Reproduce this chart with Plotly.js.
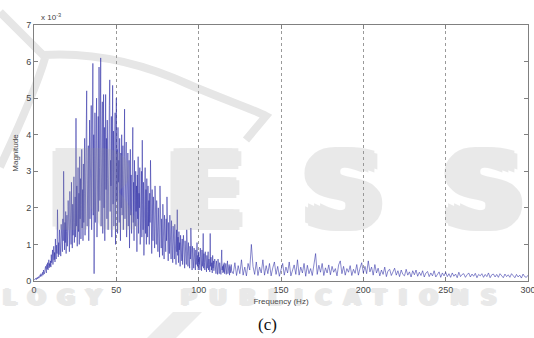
<!DOCTYPE html>
<html>
<head>
<meta charset="utf-8">
<script src="https://cdn.plot.ly/plotly-3.0.1.min.js"></script>
<style>html,body{margin:0;padding:0;background:#fff;}#chart{width:534px;height:338px;}</style>
</head>
<body>
<div id="chart"></div>
<script>
// Magnitude (x 10^-3), 0..120 Hz at 0.25 Hz steps
const magLow = [
0.02,0.04,0.03,0.06,0.05,0.08,0.04,0.07,0.10,0.06,0.09,0.12,0.08,0.14,0.10,0.17,0.12,0.20,0.15,0.13,
0.18,0.24,0.16,0.30,0.22,0.19,0.34,0.25,0.40,0.28,0.22,0.45,0.33,0.50,0.30,0.42,0.58,0.36,0.48,0.40,
0.55,0.38,0.72,0.50,0.62,0.85,0.45,0.68,0.95,0.58,0.78,0.52,1.15,0.70,0.60,0.98,0.75,1.95,0.82,0.66,
1.05,0.72,1.40,0.90,1.20,0.68,1.55,1.00,1.30,0.80,1.70,1.10,3.00,1.25,0.85,1.60,1.05,1.90,0.75,1.35,
1.80,0.95,1.45,2.20,1.10,1.65,0.80,2.45,1.30,1.85,1.00,2.70,1.50,0.90,2.10,1.25,1.75,2.85,1.05,1.60,
2.30,1.20,4.45,1.50,2.60,0.95,1.90,3.10,1.35,2.40,1.00,3.40,1.70,2.80,1.15,2.10,3.60,1.45,2.50,1.10,
3.20,1.60,2.40,3.90,1.25,2.70,1.80,4.10,5.20,1.50,3.00,2.00,3.70,1.10,2.60,4.40,1.70,3.30,2.20,4.80,
1.40,3.50,2.50,5.95,1.80,4.00,0.20,2.90,4.60,1.60,3.40,2.30,5.00,1.20,3.80,2.60,4.50,1.90,5.85,3.10,
2.20,4.70,6.10,1.50,3.60,2.40,4.90,1.30,3.20,5.10,2.00,4.20,1.10,3.50,5.10,2.50,3.90,1.70,4.40,2.80,
1.40,3.70,2.30,4.80,5.50,1.90,3.30,2.60,4.50,1.20,3.80,5.35,2.10,4.10,1.50,3.40,2.50,4.60,1.00,3.20,
5.00,2.20,3.60,1.30,4.20,2.70,3.30,1.60,3.90,2.40,1.10,3.50,2.00,4.00,1.80,2.90,3.70,1.40,2.60,3.40,
4.70,1.70,3.10,2.30,3.80,1.20,2.80,2.00,3.50,1.50,2.60,3.30,0.90,2.40,3.60,1.80,2.90,1.30,3.20,2.10,
4.20,1.60,2.70,1.10,3.30,2.20,1.50,3.00,1.90,2.60,0.80,2.90,1.70,3.40,1.30,2.40,2.00,3.10,1.00,2.50,
1.60,3.00,1.20,3.85,2.10,1.40,2.70,0.70,2.30,1.80,3.10,1.30,2.50,1.00,2.80,1.90,1.20,2.60,1.50,2.20,
1.00,2.40,1.60,3.30,1.30,2.00,0.75,2.50,1.70,1.10,2.30,1.40,2.10,0.90,2.60,1.50,1.90,1.00,2.20,1.30,
1.80,0.80,2.00,1.40,1.60,0.65,2.60,1.20,1.90,0.90,1.70,1.30,0.70,2.10,1.10,1.50,0.60,1.80,1.20,1.40,
0.80,1.70,1.10,2.30,0.90,1.50,0.55,1.60,1.20,0.75,1.80,1.00,1.40,0.60,1.65,0.95,1.25,0.50,1.50,0.85,
1.30,0.60,1.55,0.90,1.10,0.45,1.40,0.80,1.95,0.70,1.20,0.50,1.35,0.85,1.05,0.40,1.25,0.65,1.00,0.55,
1.15,0.45,0.90,1.25,0.60,1.00,0.35,1.10,0.70,0.90,0.45,1.40,0.65,0.85,0.40,1.05,0.55,0.80,0.35,0.95,
0.60,1.45,0.50,0.85,0.30,0.95,0.55,0.75,0.35,0.90,0.50,0.70,0.30,0.85,0.45,0.65,1.05,0.40,0.70,0.30,
0.80,0.45,0.65,0.30,0.90,0.50,0.70,0.28,0.85,0.40,0.60,1.30,0.35,0.75,0.50,0.30,0.80,0.45,0.60,0.25,
0.70,0.35,0.55,0.80,0.30,0.60,0.45,0.25,1.30,0.40,0.65,0.30,0.50,0.22,0.70,0.35,0.55,0.28,0.45,0.60,
0.30,0.50,0.20,0.55,0.35,0.45,0.18,0.60,0.30,0.40,0.20,0.50,0.28,0.45,0.18,0.55,0.85,0.30,0.40,0.22,
0.45,0.25,0.50,0.20,0.38,0.30,0.48,0.18,0.42,0.28,0.55,0.20,0.35,0.25,0.45,0.16,0.40,0.30,0.22,0.45,
0.28
];
// Magnitude (x 10^-3), 121..300 Hz at 1 Hz steps
const magHigh = [
0.20,0.50,0.15,0.42,0.20,0.58,0.16,0.38,0.14,0.48,
0.30,1.00,0.40,0.18,0.52,0.15,0.38,0.22,0.58,0.16,
0.42,0.20,0.48,0.14,0.36,0.52,0.18,0.40,0.13,0.33,
0.48,0.16,0.38,0.22,0.52,0.14,0.33,0.44,0.18,0.58,
0.16,0.38,0.22,0.48,0.13,0.43,0.20,0.34,0.15,0.52,
0.75,0.18,0.43,0.24,0.48,0.15,0.36,0.22,0.44,0.17,
0.40,0.24,0.34,0.14,0.44,0.55,0.20,0.40,0.16,0.34,
0.24,0.42,0.15,0.32,0.21,0.45,0.16,0.35,0.50,0.22,
0.40,0.20,0.55,0.25,0.38,0.16,0.45,0.22,0.35,0.14,
0.30,0.18,0.38,0.12,0.28,0.32,0.15,0.25,0.35,0.16,
0.28,0.12,0.30,0.18,0.14,0.32,0.16,0.25,0.11,0.28,
0.17,0.30,0.13,0.24,0.15,0.28,0.11,0.22,0.26,0.12,
0.22,0.14,0.28,0.11,0.20,0.25,0.10,0.22,0.14,0.24,
0.12,0.20,0.10,0.22,0.13,0.19,0.09,0.24,0.12,0.18,
0.20,0.10,0.17,0.22,0.11,0.19,0.13,0.21,0.09,0.18,
0.14,0.20,0.10,0.18,0.12,0.22,0.09,0.17,0.19,0.11,
0.18,0.10,0.20,0.13,0.09,0.19,0.12,0.17,0.10,0.20,
0.13,0.09,0.18,0.11,0.16,0.08,0.19,0.12,0.10,0.16
];
const xTicks = [0,50,100,150,200,250,300];
const yTicks = [0,1,2,3,4,5,6,7];
const xTitle = 'Frequency (Hz)';
const yTitle = 'Magnitude';
const caption = '(c)';

const freq = [], mag = [];
magLow.forEach((v,i)=>{ freq.push(i*0.25); mag.push(v); });
magHigh.forEach((v,i)=>{ freq.push(121+i); mag.push(v); });

// pixel -> paper helpers for decoration placement (plot area 34..528 x 25..281)
const PL=34, PR=528, PT=25, PB=281;
const px = x => (x-PL)/(PR-PL);
const py = y => (PB-y)/(PB-PT);
const pt = (x,y) => px(x).toFixed(4)+','+py(y).toFixed(4);

const g = 'rgb(150,150,150)';
const bigShadow = [[-9,0],[-6,0],[-3,0],[3,0],[6,0],[9,0],[-6,3],[6,3],[-6,-3],[6,-3],[0,3],[0,-3]]
  .map(([a,b]) => a+'px '+b+'px 0 '+g).join(', ');
const smallShadow = [[-2,0],[2,0],[0,1],[0,-1]].map(([a,b]) => a+'px '+b+'px 0 '+g).join(', ');
const wmFont = {family:'DejaVu Sans, Liberation Sans, sans-serif', size:104, weight:'bold', color:g, shadow:bigShadow};
const wmLetters = [['R',92],['E',205],['S',343],['S',483]];
const wmSmall = {family:'DejaVu Sans, Liberation Sans, sans-serif', size:21, weight:'bold', color:g, shadow:smallShadow};

const axisCommon = {
  showline:true, mirror:'ticks', linecolor:'#808080', linewidth:1,
  ticks:'inside', ticklen:4, tickcolor:'#808080',
  tickfont:{family:'Liberation Sans, Arial, sans-serif', size:9, color:'#444'},
  zeroline:false, ticklabeloverflow:'allow'
};

const layout = {
  width:534, height:338,
  margin:{l:34, r:6, t:25, b:57},
  paper_bgcolor:'#fff', plot_bgcolor:'rgba(0,0,0,0)',
  showlegend:false,
  xaxis:Object.assign({}, axisCommon, {
    range:[0,300], tickvals:xTicks, ticktext:xTicks.map(String),
    showgrid:true, gridcolor:'#9a9a9a', griddash:'dot', gridwidth:1,
    title:{text:xTitle, font:{family:'Liberation Sans, Arial, sans-serif', size:8, color:'#444'}, standoff:4}
  }),
  yaxis:Object.assign({}, axisCommon, {
    range:[0,7], tickvals:yTicks, ticktext:yTicks.map(String),
    showgrid:false,
    title:{text:yTitle, font:{family:'Liberation Sans, Arial, sans-serif', size:8, color:'#444'}, standoff:6}
  }),
  shapes:[
    {type:'path', xref:'paper', yref:'paper', layer:'below',
     path:'M'+pt(0,12)+' L'+pt(43,55)+' C'+pt(90,52)+' '+pt(140,62)+' '+pt(190,85)+
          ' C'+pt(225,100)+' '+pt(255,110)+' '+pt(266,116)+' L'+pt(246,140),
     line:{color:'#e6e6e6', width:8}},
    {type:'path', xref:'paper', yref:'paper', layer:'below',
     path:'M'+pt(45,58)+' Q'+pt(36,90)+' '+pt(0,167),
     line:{color:'#e6e6e6', width:8}},
    {type:'path', xref:'paper', yref:'paper', layer:'below',
     path:'M'+pt(147,338)+' L'+pt(176,338)+' L'+pt(202,312)+' L'+pt(173,312)+' Z',
     fillcolor:'#ececec', line:{width:0}}
  ],
  annotations:[
    {xref:'paper', yref:'paper', x:0.01, y:1.0, xanchor:'left', yanchor:'bottom', yshift:1,
     text:'x 10<sup>-3</sup>', showarrow:false,
     font:{family:'Liberation Sans, Arial, sans-serif', size:8, color:'#444'}},
    {xref:'paper', yref:'paper', x:px(267), y:py(313), xanchor:'center', yanchor:'top',
     text:caption, showarrow:false,
     font:{family:'Liberation Serif, Times New Roman, serif', size:17, color:'#111'}}
  ].concat(wmLetters.map(([ch,cx]) => ({
     xref:'paper', yref:'paper', x:px(cx), y:py(191), xanchor:'center', yanchor:'middle',
     text:ch, showarrow:false, font:wmFont, opacity:0.2}))).concat([
    {xref:'paper', yref:'paper', x:px(58), y:py(298), xanchor:'center', yanchor:'middle',
     text:'<span style="letter-spacing:12px">LOGY</span>', showarrow:false, font:wmSmall, opacity:0.2},
    {xref:'paper', yref:'paper', x:px(345), y:py(298), xanchor:'center', yanchor:'middle',
     text:'<span style="letter-spacing:13px">PUBLICATIONS</span>', showarrow:false, font:wmSmall, opacity:0.2}
  ])
};

Plotly.newPlot('chart', [{
  type:'scatter', mode:'lines', x:freq, y:mag,
  line:{color:'rgba(45,45,165,0.8)', width:0.7},
  hoverinfo:'skip'
}], layout, {staticPlot:true, displayModeBar:false});
</script>
</body>
</html>
